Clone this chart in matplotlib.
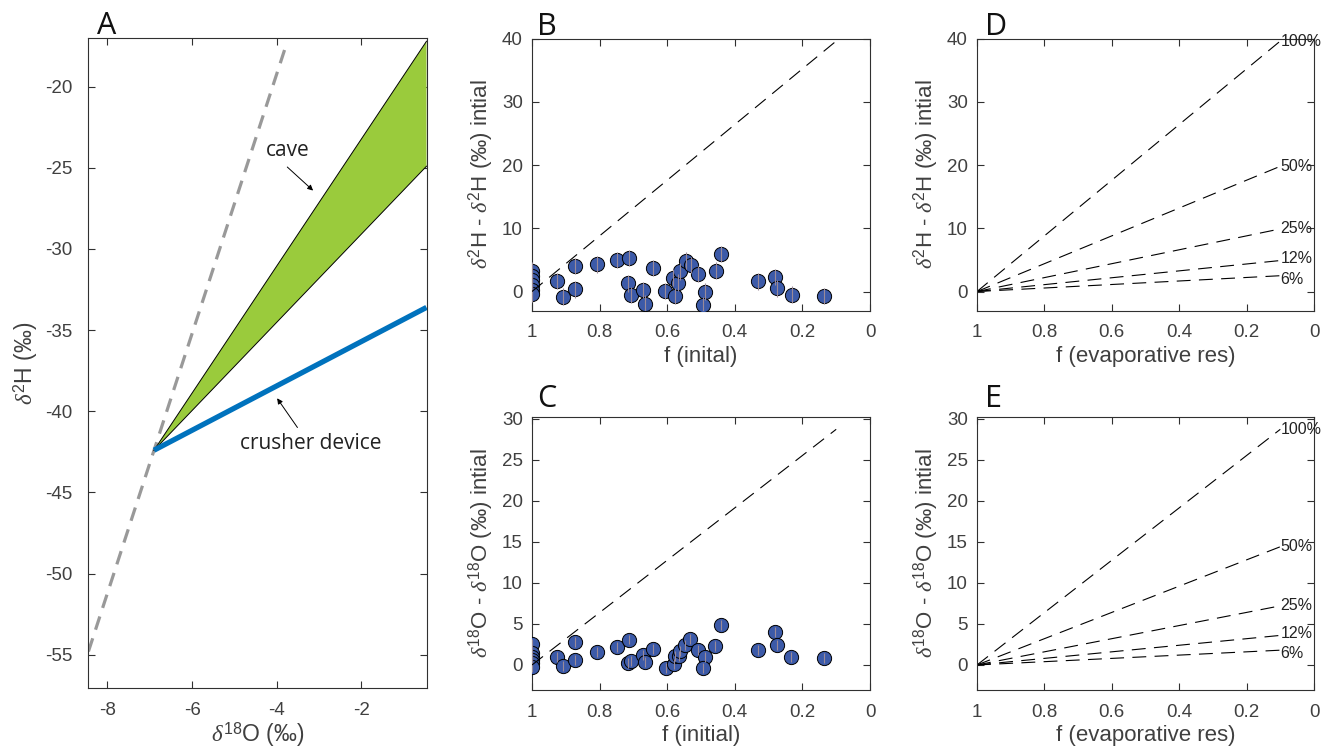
import matplotlib
matplotlib.use("Agg")
import matplotlib.pyplot as plt
import numpy as np

plt.rcParams['font.family'] = ['Liberation Sans', 'DejaVu Sans']
plt.rcParams['mathtext.fontset'] = 'custom'
plt.rcParams['mathtext.rm'] = 'Liberation Sans'
plt.rcParams['mathtext.it'] = 'Liberation Serif:italic'
plt.rcParams['mathtext.bf'] = 'Liberation Sans:bold'
plt.rcParams['lines.scale_dashes'] = False
plt.rcParams['axes.unicode_minus'] = False

# ---------------- data ----------------
# Panel A
gmwl_x = [-8.45, -3.76]
gmwl_y = [-54.8, -17.3]
cave_x = [-6.9, -0.46]
cave_upper = [-42.4, -17.2]
cave_lower = [-42.4, -24.9]
crusher_x = [-6.9, -0.46]
crusher_y = [-42.4, -33.6]

# Panel B (f, delta2H difference)
f_B = [1, 1, 1, 1, 1, 1,
       0.927, 0.907, 0.873, 0.873, 0.807, 0.748, 0.712, 0.717, 0.708, 0.671,
       0.666, 0.643, 0.607, 0.582, 0.577, 0.567, 0.562, 0.544, 0.530, 0.509,
       0.488, 0.495, 0.456, 0.442, 0.330, 0.281, 0.276, 0.232, 0.136]
dH_B = [3.3, 2.5, 1.8, 1.0, 0.3, -0.4,
        1.7, -0.8, 4.0, 0.35, 4.3, 5.0, 5.3, 1.3, -0.55, 0.24,
        -1.9, 3.7, 0.1, 2.2, -0.7, 1.4, 3.2, 4.9, 4.2, 2.8,
        0.0, -2.1, 3.3, 5.9, 1.6, 2.3, 0.5, -0.5, -0.7]
err_B = 1.3

# Panel C (f, delta18O difference)
f_C = [1, 1, 1, 1, 1, 1,
       0.927, 0.907, 0.873, 0.873, 0.807, 0.750, 0.712, 0.717, 0.708, 0.671,
       0.667, 0.643, 0.605, 0.580, 0.578, 0.566, 0.562, 0.548, 0.533, 0.509,
       0.488, 0.495, 0.458, 0.442, 0.330, 0.281, 0.276, 0.234, 0.136]
dO_C = [2.6, 1.5, 1.0, 0.6, 0.2, -0.2,
        0.93, -0.17, 2.8, 0.65, 1.54, 2.2, 3.1, 0.24, 0.44, 1.2,
        0.32, 1.95, -0.41, 0.16, 1.05, 1.05, 1.66, 2.48, 3.17, 1.87,
        0.93, -0.37, 2.35, 4.83, 1.87, 4.06, 2.48, 0.93, 0.85]
err_C = 0.6

# model lines (D/E and 1:1 lines in B/C)
f_model = [1.0, 0.1]
pct_labels = ['100%', '50%', '25%', '12%', '6%']
dH_end = [39.6, 19.8, 9.9, 4.9, 2.5]
dO_end = [28.7, 14.4, 7.2, 3.6, 1.8]
label_offsets = [0, 0, 0, 1.5, -2.5]

# ---------------- figure ----------------
W, H = 1329, 751
fig = plt.figure(figsize=(W / 100, H / 100), dpi=100)

def ax_at(l, t, r, b):
    return fig.add_axes([l / W, 1 - b / H, (r - l) / W, (b - t) / H])

axA = ax_at(88, 38, 426.5, 688)
axB = ax_at(532, 38.5, 870, 310.5)
axC = ax_at(532, 417, 870, 690)
axD = ax_at(977, 38.5, 1314, 310.5)
axE = ax_at(977, 417, 1314, 690)

tick_col = '#404040'
spine_col = '#303030'
TFS = 13.5
LFS = 16

def style(ax, ypad=6.5):
    for s in ax.spines.values():
        s.set_color(spine_col)
        s.set_linewidth(0.8)
    ax.tick_params(direction='in', top=True, right=True, length=5,
                   width=0.8, color=spine_col, labelcolor=tick_col,
                   labelsize=TFS)
    ax.tick_params(axis='x', pad=10)
    ax.tick_params(axis='y', pad=ypad)

# ---- Panel A ----
axA.plot(gmwl_x, gmwl_y, color='#999999', lw=2.3, dashes=(10, 6.5))
axA.fill_between(cave_x, cave_lower, cave_upper, facecolor='#9ACB3C',
                 edgecolor='none', zorder=2)
axA.plot(cave_x, cave_upper, color='k', lw=0.7, zorder=3)
axA.plot(cave_x, cave_lower, color='k', lw=0.7, zorder=3)
axA.plot(crusher_x, crusher_y, color='#0072BD', lw=3.8, zorder=4,
         solid_capstyle='butt')
axA.set_xlim(-8.46, -0.46)
axA.set_ylim(-57.05, -17.0)
axA.set_xticks([-8, -6, -4, -2])
axA.set_yticks([-20, -25, -30, -35, -40, -45, -50, -55])
style(axA, ypad=11)
axA.set_xlabel(r'$\delta^{18}$O (‰)', fontsize=LFS + 0.5, color=tick_col, labelpad=1)
axA.set_ylabel(r'$\delta^{2}$H (‰)', fontsize=LFS + 0.5, color=tick_col, labelpad=4)

axA.text(-3.74, -23.95, 'cave', fontsize=15, ha='center', va='center',
         color='#222222', family='Open Sans')
axA.annotate('', xy=(-3.14, -26.4), xytext=(-3.75, -24.95),
             arrowprops=dict(arrowstyle='-|>', color='k', lw=0.7,
                             mutation_scale=8, shrinkA=0, shrinkB=0))
axA.text(-3.2, -42.0, 'crusher device', fontsize=15, ha='center',
         va='center', color='#222222', family='Open Sans')
axA.annotate('', xy=(-3.99, -39.2), xytext=(-3.51, -41.0),
             arrowprops=dict(arrowstyle='-|>', color='k', lw=0.7,
                             mutation_scale=8, shrinkA=0, shrinkB=0))

# ---- Panels B, C ----
mk_face = '#3C5AA8'
for ax, fx, fy, err, end, ylim, yt, xl, yl in [
        (axB, f_B, dH_B, err_B, dH_end[0], (-3, 40), [0, 10, 20, 30, 40],
         'f (inital)', r'$\delta^2$H - $\delta^2$H (‰) intial'),
        (axC, f_C, dO_C, err_C, dO_end[0], (-3.05, 30.2), [0, 5, 10, 15, 20, 25, 30],
         'f (initial)', r'$\delta^{18}$O - $\delta^{18}$O (‰) intial')]:
    ax.plot(f_model, [0, end], color='k', lw=0.8, dashes=(10, 6), zorder=4)
    ax.scatter(fx, fy, s=105, c=mk_face, edgecolors='k', linewidths=0.7,
               zorder=3)
    ax.errorbar(fx, fy, yerr=err, fmt='none', ecolor='#9a8a98',
                elinewidth=0.8, capsize=0, zorder=3.5)
    ax.set_xlim(1, 0)
    ax.set_ylim(*ylim)
    ax.set_xticks([1, 0.8, 0.6, 0.4, 0.2, 0])
    ax.set_xticklabels(['1', '0.8', '0.6', '0.4', '0.2', '0'])
    ax.set_yticks(yt)
    style(ax)
    ax.set_xlabel(xl, fontsize=LFS, color=tick_col, labelpad=3)
    ax.set_ylabel(yl, fontsize=LFS, color=tick_col, labelpad=4)

# ---- Panels D, E ----
for ax, ends, ylim, yt, yl in [
        (axD, dH_end, (-3, 40), [0, 10, 20, 30, 40],
         r'$\delta^2$H - $\delta^2$H (‰) intial'),
        (axE, dO_end, (-3.05, 30.2), [0, 5, 10, 15, 20, 25, 30],
         r'$\delta^{18}$O - $\delta^{18}$O (‰) intial')]:
    for lab, e, off in zip(pct_labels, ends, label_offsets):
        ax.plot(f_model, [0, e], color='k', lw=0.8, dashes=(10, 6))
        ax.annotate(lab, xy=(f_model[1], e), xytext=(0, off),
                    textcoords='offset points', ha='left', va='center',
                    fontsize=11.5, color='#222222', clip_on=False)
    ax.set_xlim(1, 0)
    ax.set_ylim(*ylim)
    ax.set_xticks([1, 0.8, 0.6, 0.4, 0.2, 0])
    ax.set_xticklabels(['1', '0.8', '0.6', '0.4', '0.2', '0'])
    ax.set_yticks(yt)
    style(ax)
    ax.set_xlabel('f (evaporative res)', fontsize=LFS, color=tick_col, labelpad=3)
    ax.set_ylabel(yl, fontsize=LFS, color=tick_col, labelpad=4)

# panel letters
for lab, x, y in [('A', 97, 34.5), ('B', 537, 35), ('C', 537, 407),
                  ('D', 985, 35), ('E', 985, 407)]:
    fig.text(x / W, 1 - y / H, lab, fontsize=22, family='Open Sans',
             ha='left', va='baseline', color='#111111')

fig.savefig('out.png', dpi=100)
